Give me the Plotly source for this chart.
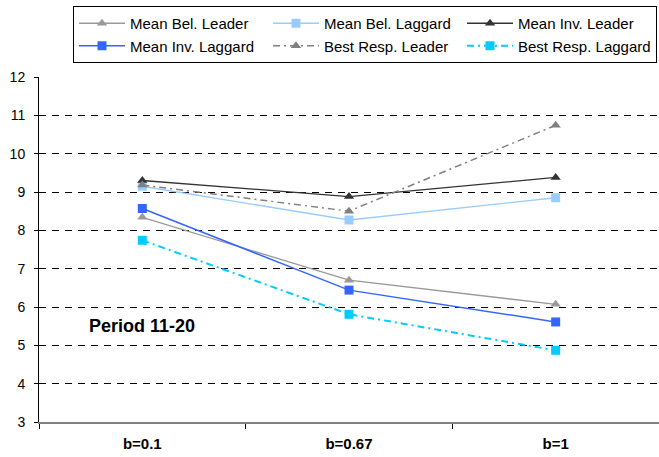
import plotly.graph_objects as go

categories = ["b=0.1", "b=0.67", "b=1"]
mean_bel_leader = [8.34, 6.70, 6.07]
mean_bel_laggard = [9.15, 8.27, 8.85]
mean_inv_leader = [9.30, 8.88, 9.38]
mean_inv_laggard = [8.57, 6.44, 5.61]
best_resp_leader = [9.18, 8.50, 10.74]
best_resp_laggard = [7.74, 5.81, 4.87]
y_ticks = [3, 4, 5, 6, 7, 8, 9, 10, 11, 12]

FONT = "Liberation Sans, Arial, sans-serif"
DASHDOT = "7px,4px,2px,4px"

series = [
    ("Mean Bel. Leader", mean_bel_leader, "#999999", "solid", "triangle-up", 1.3),
    ("Mean Bel. Laggard", mean_bel_laggard, "#99CCFF", "solid", "square", 1.3),
    ("Mean Inv. Leader", mean_inv_leader, "#333333", "solid", "triangle-up", 1.3),
    ("Mean Inv. Laggard", mean_inv_laggard, "#3366FF", "solid", "square", 1.5),
    ("Best Resp. Leader", best_resp_leader, "#808080", DASHDOT, "triangle-up", 1.5),
    ("Best Resp. Laggard", best_resp_laggard, "#00CCFF", DASHDOT, "square", 2),
]

fig = go.Figure()
for name, vals, color, dash, sym, w in series:
    fig.add_trace(go.Scatter(
        x=categories, y=vals, name=name, mode="lines+markers",
        line=dict(color=color, width=w, dash=dash),
        marker=dict(symbol=sym, size=9, color=color),
    ))

fig.add_annotation(
    x=0, y=5.5, xref="x", yref="y", text="<b>Period 11-20</b>",
    showarrow=False, font=dict(family=FONT, size=18, color="black"),
    xanchor="center", yanchor="middle",
)

fig.update_layout(
    width=659, height=457,
    margin=dict(l=39, r=0, t=77, b=35, autoexpand=False),
    plot_bgcolor="white", paper_bgcolor="white",
    font=dict(family=FONT, size=14, color="black"),
    showlegend=True,
    legend=dict(
        orientation="h", xref="paper", yref="paper",
        x=(73 - 39) / 620, y=(422 - 6) / 345, xanchor="left", yanchor="top",
        bordercolor="black", borderwidth=1,
        font=dict(family=FONT, size=15, color="black"),
        entrywidth=133, entrywidthmode="pixels",
        itemwidth=46, tracegroupgap=0,
    ),
    xaxis=dict(
        type="category", showgrid=False, zeroline=False,
        showline=True, linecolor="#808080", linewidth=2,
        ticks="outside", tickson="boundaries", ticklen=5, tickcolor="black",
        ticklabelstandoff=7,
        tickfont=dict(family=FONT, size=15, color="black", weight="bold"),
        range=[-0.5, 2.5],
    ),
    yaxis=dict(
        range=[3, 12], tickvals=y_ticks,
        showgrid=True, gridcolor="black", griddash="7px,6px", gridwidth=1,
        zeroline=False, showline=True, linecolor="black", linewidth=1,
        ticks="outside", ticklen=4, tickcolor="black",
        ticklabelstandoff=6,
        tickfont=dict(family=FONT, size=14, color="black"),
    ),
)

fig.write_html(
    "out.html",
    config={"displayModeBar": False},
    post_script="document.body.style.margin='0';document.body.style.padding='0';",
)
